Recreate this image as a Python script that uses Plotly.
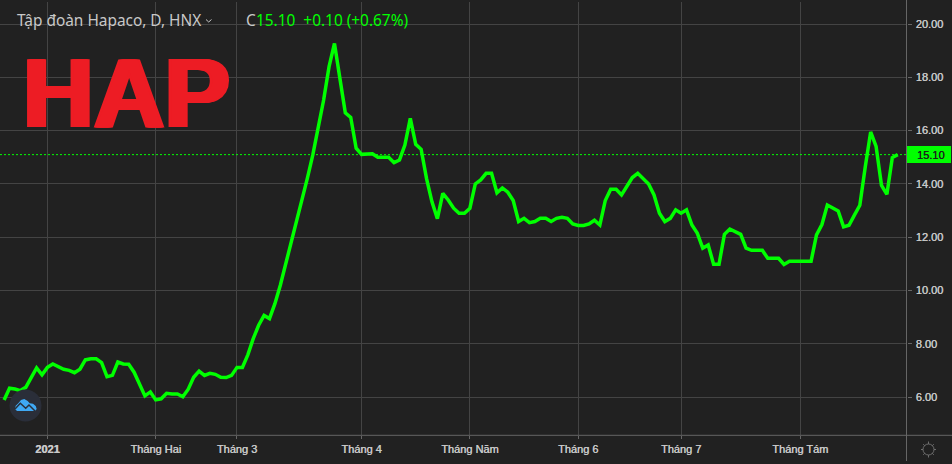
import plotly.graph_objects as go

W, H = 952, 464

trading_day = list(range(166))
close = [
 5.90,6.34,6.31,6.25,6.37,6.75,7.10,6.84,7.12,7.25,7.15,7.05,7.01,6.92,7.05,7.40,7.44,7.44,7.30,6.77,
 6.82,7.32,7.25,7.24,6.94,6.50,6.05,6.20,5.90,5.94,6.15,6.12,6.12,6.02,6.30,6.75,6.98,6.82,6.90,6.86,
 6.75,6.74,6.82,7.12,7.12,7.59,8.20,8.70,9.07,8.95,9.51,10.20,11.00,11.70,12.58,13.33,14.22,15.09,16.09,17.15,
 18.40,19.27,17.96,16.67,16.50,15.34,15.11,15.13,15.13,15.00,15.00,15.00,14.80,14.90,15.46,16.46,15.49,15.30,14.20,13.33,
 12.70,13.65,13.40,13.09,12.90,12.90,13.09,14.00,14.15,14.40,14.40,13.67,13.85,13.69,13.38,12.59,12.71,12.55,12.59,12.71,
 12.71,12.59,12.71,12.75,12.71,12.50,12.44,12.44,12.50,12.64,12.46,13.38,13.80,13.80,13.59,13.90,14.24,14.40,14.19,14.00,
 13.59,12.90,12.59,12.71,13.03,12.90,13.03,12.46,12.15,11.59,11.71,10.99,10.99,12.11,12.31,12.20,12.11,11.59,11.51,11.51,
 11.51,11.21,11.21,11.21,10.98,11.10,11.10,11.10,11.10,11.10,12.09,12.48,13.21,13.10,12.99,12.39,12.45,12.83,13.20,14.64,
 15.95,15.41,13.95,13.61,14.99,15.10,
]
month_ticks = [8, 28, 43, 66, 86, 106, 125, 147]
month_labels = ["<b>2021</b>", "Tháng Hai", "Tháng 3", "Tháng 4", "Tháng Năm", "Tháng 6", "Tháng 7", "Tháng Tám"]
price_ticks = [6, 8, 10, 12, 14, 16, 18, 20]
price_labels = ["6.00", "8.00", "10.00", "12.00", "14.00", "16.00", "18.00", "20.00"]
last_close = 15.10
last_close_label = "15.10"

BG = "#212121"
GRID = "#444444"
AXIS = "#666666"
GREEN = "#00ff00"
LABEL = "#c8c8c8"
FONT = "Liberation Sans"
RED = "#ed1c24"
AX_R = 906.5
AX_B = 435.3


def px(x):
    return x / W


def py(y):
    return 1 - y / H


def ppath(points, close_it=False):
    s = "M" + " L".join(f"{px(a):.5f},{py(b):.5f}" for a, b in points)
    return s + (" Z" if close_it else "")


fig = go.Figure()
fig.add_trace(go.Scatter(x=trading_day, y=close, mode="lines", hoverinfo="skip",
                         line=dict(color=GREEN, width=3.5)))

shapes = [
    # last price line
    dict(type="line", xref="paper", yref="y", x0=0, x1=px(AX_R), y0=last_close, y1=last_close,
         line=dict(color=GREEN, width=1, dash="2px,2px")),
    # price tag
    dict(type="rect", xref="paper", yref="paper", x0=px(AX_R), x1=px(951), y0=py(146), y1=py(163),
         fillcolor=GREEN, line_width=0),
    # axis borders
    dict(type="line", xref="paper", yref="paper", x0=px(AX_R), x1=px(AX_R), y0=py(0), y1=py(461),
         line=dict(color=AXIS, width=1)),
    dict(type="line", xref="paper", yref="paper", x0=0, x1=1, y0=py(AX_B), y1=py(AX_B),
         line=dict(color=AXIS, width=1)),
    # logo disc
    dict(type="circle", xref="paper", yref="paper", x0=px(9.5), x1=px(41.5), y0=py(389.5), y1=py(421.5),
         fillcolor="#2a2e39", line_width=0),
    # gear
    dict(type="circle", xref="paper", yref="paper", x0=px(923), x1=px(934), y0=py(444), y1=py(455),
         line=dict(color="#6e6e6e", width=1)),
]
for a, b in [((928.5, 441.5), (928.5, 444)), ((928.5, 455), (928.5, 457.5)),
             ((921, 449.5), (923, 449.5)), ((934, 449.5), (936, 449.5)),
             ((923.2, 444.2), (924.8, 445.8)), ((932.2, 453.2), (933.8, 454.8)),
             ((933.8, 444.2), (932.2, 445.8)), ((924.8, 453.2), (923.2, 454.8))]:
    shapes.append(dict(type="path", xref="paper", yref="paper", path=ppath([a, b]),
                       line=dict(color="#6e6e6e", width=1)))
# chevron in the title
shapes.append(dict(type="path", xref="paper", yref="paper",
                   path=ppath([(206, 19.5), (208.7, 22), (211.5, 19.5)]),
                   line=dict(color="#c8c8c8", width=1)))
# logo cloud
shapes.append(dict(type="path", xref="paper", yref="paper",
                   path=ppath([(15, 409), (15.7, 405.7), (18.3, 403.3), (21, 400), (24.3, 399), (27.7, 401),
                               (29.7, 403.3), (33, 403.7), (35.7, 406), (36.7, 409), (35, 411), (17, 411)], True),
                   fillcolor="#3fa9f5", line_width=0))
shapes.append(dict(type="path", xref="paper", yref="paper",
                   path=ppath([(15, 409), (20.3, 403.3), (25.7, 408.3), (29, 405), (35, 411)]),
                   line=dict(color="#2a2e39", width=1.5)))

annotations = [
    dict(text="HAP", x=px(21.7), y=py(92.5), xanchor="left", yanchor="middle", showarrow=False,
         font=dict(family=FONT, size=98, color=RED, weight="bold",
                   shadow=f"2.5px 0 0 {RED}, -2.5px 0 0 {RED}, 1.2px 0 0 {RED}, -1.2px 0 0 {RED}")),
    dict(text="Tập đoàn Hapaco, D, HNX", x=px(16), y=py(20.5), xanchor="left", yanchor="middle",
         showarrow=False, font=dict(family="Noto Sans", size=15.4, color="#c8c8c8")),
    dict(text="C", x=px(245), y=py(20.5), xanchor="left", yanchor="middle", showarrow=False,
         font=dict(family="Noto Sans", size=15.4, color="#c8c8c8")),
    dict(text="15.10  +0.10 (+0.67%)", x=px(255), y=py(20.5), xanchor="left", yanchor="middle",
         showarrow=False, font=dict(family="Noto Sans", size=15.4, color=GREEN)),
    dict(text=last_close_label, x=px(915.5), y=last_close, yref="y", xanchor="left", yanchor="middle",
         showarrow=False, font=dict(family=FONT, size=11, color="#1c1c1c", shadow="0.3px 0 0 #1c1c1c")),
]
for a in annotations:
    a.setdefault("xref", "paper")
    a.setdefault("yref", "paper")
    a["borderpad"] = 0

I0, SLOPE = 4.1, 5.416
P20, PUNIT = 24.0, 26.66
tick_font = dict(family=FONT, size=11, color=LABEL, shadow=f"0.35px 0 0 {LABEL}")
fig.update_layout(
    width=W, height=H, margin=dict(l=0, r=0, t=0, b=0),
    paper_bgcolor=BG, plot_bgcolor=BG, showlegend=False,
    shapes=shapes, annotations=annotations,
    xaxis=dict(domain=[0, AX_R / W], range=[(0 - I0) / SLOPE, (AX_R - I0) / SLOPE],
               tickmode="array", tickvals=month_ticks, ticktext=month_labels,
               showgrid=True, gridcolor=GRID, gridwidth=1, zeroline=False,
               ticks="outside", ticklen=3, tickcolor=AXIS,
               tickfont=tick_font, showline=False),
    yaxis=dict(domain=[1 - AX_B / H, 1 - 2 / H], side="right", anchor="x",
               range=[20 - (AX_B - P20) / PUNIT, 20 - (2 - P20) / PUNIT],
               tickmode="array", tickvals=price_ticks, ticktext=price_labels,
               showgrid=True, gridcolor=GRID, gridwidth=1, zeroline=False,
               ticks="outside", ticklen=4, tickcolor=AXIS, ticklabelstandoff=2,
               tickfont=tick_font, showline=False),
)

fig.write_html("out.html", config=dict(displayModeBar=False, staticPlot=True),
               post_script="document.body.style.margin='0';document.body.style.overflow='hidden';")
